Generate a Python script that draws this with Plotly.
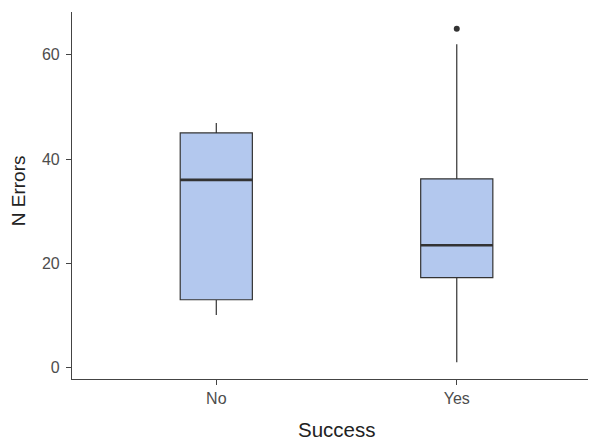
import plotly.graph_objects as go

categories = ["No", "Yes"]
lower_whisker = [10.1, 1.0]
q1 = [13.0, 17.25]
median = [36.0, 23.45]
q3 = [45.0, 36.2]
upper_whisker = [46.9, 62.0]
outlier_cat = ["Yes"]
outlier_val = [65.0]
y_ticks = [0, 20, 40, 60]

box_width = 0.3
fill = "#b3c8ee"
line_col = "#333333"

fig = go.Figure()
fig.add_trace(go.Box(
    x=categories, q1=q1, median=median, q3=q3,
    lowerfence=lower_whisker, upperfence=upper_whisker,
    fillcolor=fill, line=dict(color=line_col, width=1.2),
    width=box_width, whiskerwidth=0, boxpoints=False,
    hoverinfo="skip", showlegend=False,
))
# thicker median lines (ggplot style)
for i, m in enumerate(median):
    fig.add_trace(go.Scatter(
        x=[i - box_width / 2, i + box_width / 2], y=[m, m],
        mode="lines", line=dict(color=line_col, width=2.6),
        showlegend=False, hoverinfo="skip", xaxis="x2",
    ))
fig.add_trace(go.Scatter(
    x=outlier_cat, y=outlier_val, mode="markers",
    marker=dict(color=line_col, size=6), showlegend=False,
))

# page body has an 8px margin, so the figure is sized to end at the window edge
W, H = 588, 432
ml, mt, mr, mb = 64, 4, 0, 61
pw, ph = W - ml - mr, H - mt - mb

xr = [-0.6, 1.579]
fig.update_layout(
    width=W, height=H,
    margin=dict(l=ml, r=mr, t=mt, b=mb),
    plot_bgcolor="white", paper_bgcolor="white",
    font=dict(family="Liberation Sans, Arial, sans-serif", color="#4d4d4d"),
    xaxis=dict(
        type="category", range=xr, showgrid=False, zeroline=False,
        showline=True, linecolor="#444444", linewidth=1.2,
        ticks="outside", ticklen=5, tickcolor="#444444", tickwidth=1.2,
        tickfont=dict(size=16, color="#4d4d4d"), automargin=False,
    ),
    xaxis2=dict(range=xr, overlaying="x", visible=False),
    yaxis=dict(
        range=[-2.2, 68.2], tickvals=y_ticks, showgrid=False, zeroline=False,
        showline=True, linecolor="#444444", linewidth=1.2,
        ticks="outside", ticklen=5, tickcolor="#444444", tickwidth=1.2,
        tickfont=dict(size=16, color="#4d4d4d"), ticklabelstandoff=3,
        automargin=False,
    ),
    annotations=[
        dict(text="Success", xref="paper", yref="paper", x=0.504, y=-50.5 / ph,
             xanchor="center", yanchor="middle", showarrow=False,
             font=dict(size=20.5, color="#222222")),
        dict(text="N Errors", xref="paper", yref="paper", x=-53.5 / pw, y=0.513,
             xanchor="center", yanchor="middle", showarrow=False, textangle=-90,
             font=dict(size=19, color="#222222")),
    ],
)
fig.write_html("out.html")
